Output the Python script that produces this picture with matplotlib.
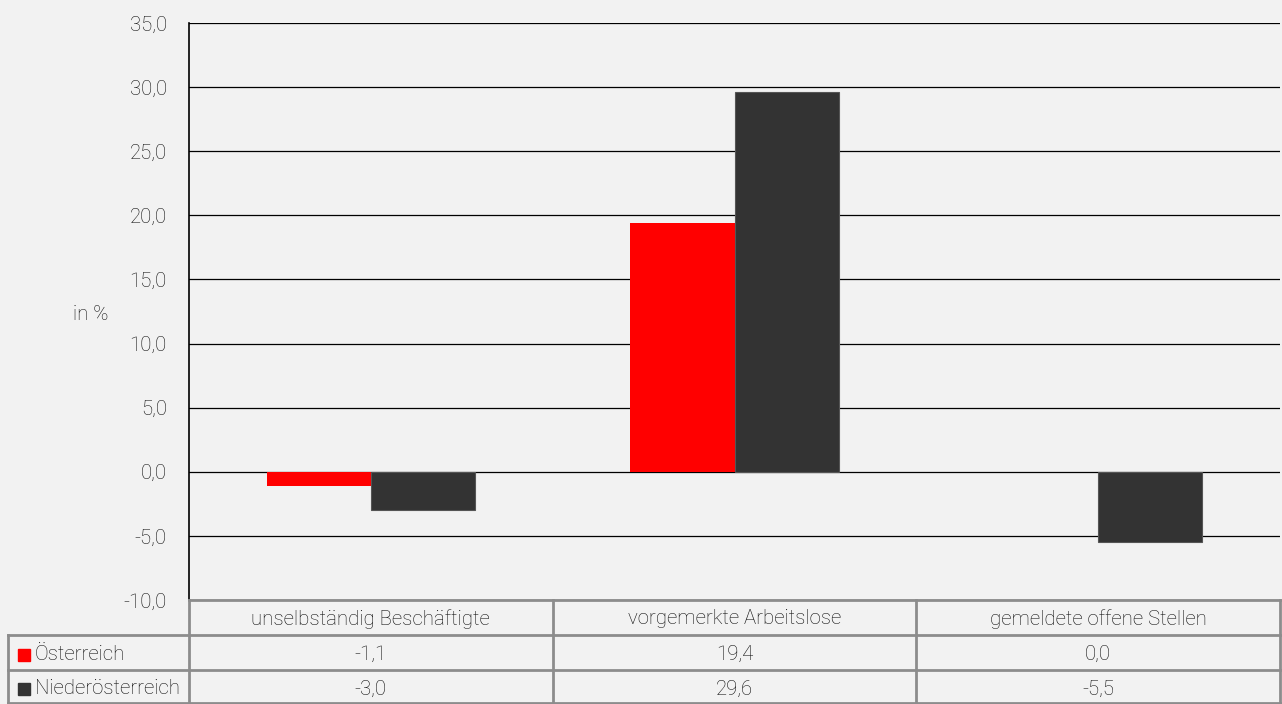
import matplotlib.pyplot as plt
from matplotlib import font_manager
from matplotlib.lines import Line2D
from matplotlib.patches import Rectangle

categories = ['unselbständig Beschäftigte', 'vorgemerkte Arbeitslose', 'gemeldete offene Stellen']
series_names = ['Österreich', 'Niederösterreich']
oesterreich = [-1.1, 19.4, 0.0]
niederoesterreich = [-3.0, 29.6, -5.5]
series_colors = ['#ff0000', '#333333']
y_ticks = [-10, -5, 0, 5, 10, 15, 20, 25, 30, 35]

names = {f.name for f in font_manager.fontManager.ttflist}
family = 'Roboto' if 'Roboto' in names else 'DejaVu Sans'
plt.rcParams['font.family'] = [family, 'DejaVu Sans']
plt.rcParams['font.weight'] = 'light'
text_color = '#0d0d0d'
bg = '#f2f2f2'
fs = 14.7


def fmt(v):
    return f'{v:.1f}'.replace('.', ',')


W, H = 1282, 704
fig = plt.figure(figsize=(W / 100, H / 100), dpi=100, facecolor=bg)

x0, x1, y_top, y_bot = 189, 1280, 23, 600
ax = fig.add_axes([x0 / W, 1 - y_bot / H, (x1 - x0) / W, (y_bot - y_top) / H])
ax.set_facecolor(bg)

n = len(categories)
width = 0.286
pos = list(range(n))
ax.bar([p - width / 2 for p in pos], oesterreich, width, color=series_colors[0], zorder=3)
ax.bar([p + width / 2 for p in pos], niederoesterreich, width, color=series_colors[1],
       edgecolor='#555555', linewidth=0.8, zorder=3)

ax.set_xlim(-0.5, n - 0.5)
ax.set_ylim(-10, 35)
ax.set_yticks(y_ticks)
ax.set_yticklabels([fmt(t) for t in y_ticks], fontsize=fs, color=text_color)
ax.tick_params(axis='y', length=0, pad=16)
ax.set_xticks([])
ax.yaxis.grid(True, color='#000000', linewidth=0.9)
ax.set_axisbelow(True)
for s in ['top', 'right', 'bottom']:
    ax.spines[s].set_visible(False)
ax.spines['left'].set_color('#000000')
ax.spines['left'].set_linewidth(1.2)
ax.set_ylabel('in %', fontsize=fs, fontweight='light', color=text_color, rotation=0, va='center')
ax.yaxis.set_label_coords(-0.09, 0.495)


# data table below the plot (pixel coords -> figure coords)
def fx(px):
    return px / W


def fy(py):
    return 1 - py / H


col_edges = [x0 + (x1 - x0) * i / n for i in range(n + 1)]
row_edges = [600, 635, 670, 704]
line_kw = dict(color='#8c8c8c', linewidth=2, transform=fig.transFigure)

fig.add_artist(Line2D([fx(x0), fx(x1)], [fy(600), fy(600)], **line_kw))
fig.add_artist(Line2D([fx(8), fx(x1)], [fy(635), fy(635)], **line_kw))
fig.add_artist(Line2D([fx(8), fx(x1)], [fy(670), fy(670)], **line_kw))
fig.add_artist(Line2D([fx(8), fx(x1)], [fy(703), fy(703)], **line_kw))
for c in col_edges:
    fig.add_artist(Line2D([fx(c), fx(c)], [fy(600), fy(704)], **line_kw))
fig.add_artist(Line2D([fx(8), fx(8)], [fy(635), fy(704)], **line_kw))

for i, cat in enumerate(categories):
    cx = (col_edges[i] + col_edges[i + 1]) / 2
    fig.text(fx(cx), fy(619), cat, ha='center', va='center', fontsize=fs, color=text_color)

for r, (name, vals, col) in enumerate(zip(series_names, [oesterreich, niederoesterreich], series_colors)):
    cy = (row_edges[r + 1] + row_edges[r + 2]) / 2 + 2
    fig.add_artist(Rectangle((fx(18), fy(cy + 6)), 12 / W, 12 / H, color=col,
                             transform=fig.transFigure))
    fig.text(fx(35), fy(cy), name, ha='left', va='center', fontsize=fs, color=text_color)
    for i, v in enumerate(vals):
        cx = (col_edges[i] + col_edges[i + 1]) / 2
        fig.text(fx(cx), fy(cy), fmt(v), ha='center', va='center', fontsize=fs, color=text_color)

fig.savefig('out.png', dpi=100, facecolor=bg)
